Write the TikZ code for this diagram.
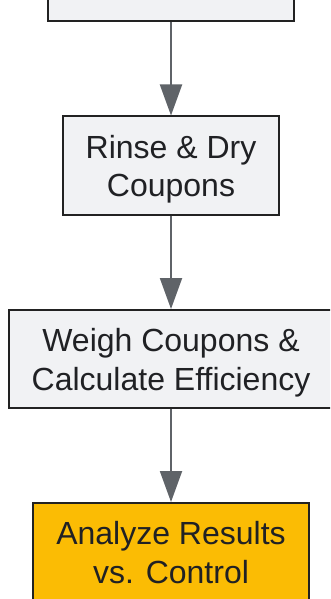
\documentclass[tikz,border=0pt]{standalone}
\usepackage{fontspec}
\setmainfont{Liberation Sans}
\usetikzlibrary{arrows.meta}
\definecolor{boxfill}{HTML}{F1F2F4}
\definecolor{boxdraw}{HTML}{222222}
\definecolor{arrowc}{HTML}{5F6368}
\definecolor{txt}{HTML}{202124}
\definecolor{hl}{HTML}{FBBC04}
\newcommand{\lstrut}{\rule[-7.3pt]{0pt}{38.4pt}}
\newcommand{\boxfont}{\fontsize{32pt}{38.4pt}\selectfont\lineskip=0pt\relax\lineskiplimit=0pt\relax}
\tikzset{
  stepbox/.style={draw=boxdraw, fill=boxfill, line width=2pt, rectangle, align=center,
    text=txt, font=\boxfont, inner sep=0pt},
  flow/.style={draw=arrowc, line width=2pt, -{Triangle[length=31pt,width=22pt]}, arrowc}
}
\begin{document}
\begin{tikzpicture}[x=1pt,y=-1pt]
\useasboundingbox (0,0) rectangle (330,599);
\clip (0,0) rectangle (330,599);
\fill[white] (0,0) rectangle (330,599);
\node[stepbox, minimum width=246pt, minimum height=120pt] (b1) at (171,-39) {};
\node[stepbox, minimum width=216pt, minimum height=98pt] (b2) at (171,165.5) {\lstrut Rinse \& Dry\\\lstrut Coupons};
\node[stepbox, minimum width=324pt, minimum height=98pt] (b3) at (171,359) {\lstrut Weigh Coupons \&\\\lstrut Calculate Efficiency};
\node[stepbox, fill=hl, minimum width=276pt, minimum height=98pt] (b4) at (171,552) {\lstrut Analyze Results\\\lstrut vs. Control};
\draw[flow] (b1) -- (b2);
\draw[flow] (b2) -- (b3);
\draw[flow] (b3) -- (b4);
\end{tikzpicture}
\end{document}
